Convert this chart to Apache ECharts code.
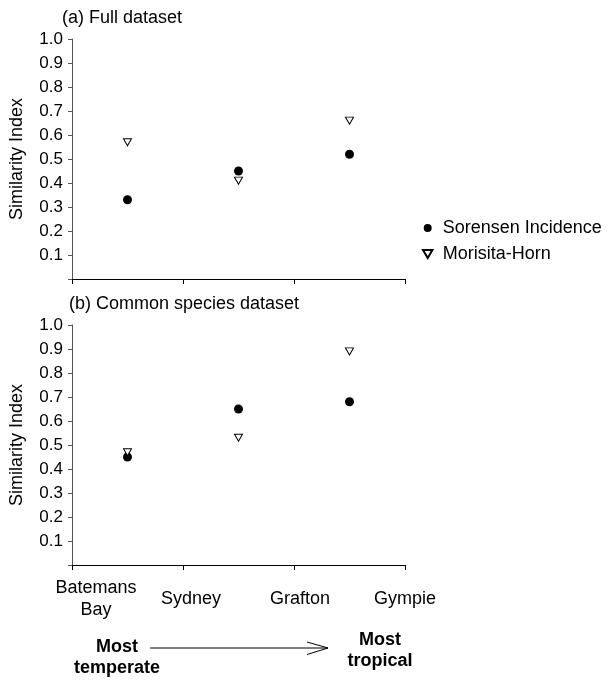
<!DOCTYPE html>
<html>
<head>
<meta charset="utf-8">
<script src="https://cdn.jsdelivr.net/npm/echarts@6/dist/echarts.min.js"></script>
<style>
html,body{margin:0;padding:0;background:#fff;}
#chart{width:616px;height:680px;}
</style>
</head>
<body>
<div id="chart"></div>
<script>
// ---- data ----
var siteLabels = ['Batemans\nBay', 'Sydney', 'Grafton', 'Gympie'];
var pairPositions = [0.5, 1.5, 2.5];
var yTicks = [0.1, 0.2, 0.3, 0.4, 0.5, 0.6, 0.7, 0.8, 0.9, 1.0];
var fullSorensen = [0.33, 0.45, 0.52];
var fullMorisita = [0.57, 0.41, 0.66];
var commonSorensen = [0.45, 0.65, 0.68];
var commonMorisita = [0.47, 0.53, 0.89];
var panelTitles = ['(a) Full dataset', '(b) Common species dataset'];
var seriesNames = ['Sorensen Incidence', 'Morisita-Horn'];
var gradientLabels = ['Most\ntemperate', 'Most\ntropical'];

// ---- styling ----
var FONT = '"Liberation Sans", Arial, sans-serif';
var TRI = 'path://M0,0 L10,0 L5,8.5 Z';
var labelShift = [48, 16, 12, 0];

function pairs(xs, ys) { return xs.map(function (x, i) { return [x, ys[i]]; }); }

function yAxis(gridIndex) {
  return {
    type: 'value', gridIndex: gridIndex, min: 0, max: 1, interval: 0.1,
    name: 'Similarity Index', nameLocation: 'middle', nameGap: 46,
    nameTextStyle: { fontFamily: FONT, fontSize: 18, color: '#000' },
    axisLine: { show: true, lineStyle: { color: '#555', width: 1 } },
    axisTick: { show: true, length: 4, lineStyle: { color: '#555' } },
    splitLine: { show: false },
    axisLabel: {
      fontFamily: FONT, fontSize: 17, color: '#000', margin: 9,
      formatter: function (v) {
        for (var i = 0; i < yTicks.length; i++) {
          if (Math.abs(yTicks[i] - v) < 1e-6) return yTicks[i].toFixed(1);
        }
        return '';
      }
    }
  };
}

var richStyles = {};
labelShift.forEach(function (p, i) {
  richStyles['s' + i] = { fontFamily: FONT, fontSize: 18, color: '#000', lineHeight: 22, padding: [0, 0, 0, p] };
});

function xAxis(gridIndex, withLabels) {
  return {
    type: 'value', gridIndex: gridIndex, min: 0, max: siteLabels.length - 1, interval: 1,
    axisLine: { show: true, lineStyle: { color: '#000', width: 1 } },
    axisTick: { show: true, length: 5, lineStyle: { color: '#000' } },
    splitLine: { show: false },
    axisLabel: withLabels ? {
      show: true, margin: 34, verticalAlign: 'middle', hideOverlap: false,
      showMinLabel: true, showMaxLabel: true,
      formatter: function (v) {
        var i = Math.round(v);
        return siteLabels[i].split('\n').map(function (l) { return '{s' + i + '|' + l + '}'; }).join('\n');
      },
      rich: richStyles
    } : { show: false }
  };
}

var circleStyle = { color: '#000', opacity: 1 };
var triStyle = { color: '#fff', borderColor: '#000', borderWidth: 1, opacity: 1 };

var option = {
  backgroundColor: '#fff',
  animation: false,
  title: [
    { text: panelTitles[0], left: 62, top: 9, padding: 0,
      textStyle: { fontFamily: FONT, fontSize: 18, fontWeight: 'normal', color: '#000' } },
    { text: panelTitles[1], left: 69, top: 295, padding: 0,
      textStyle: { fontFamily: FONT, fontSize: 18, fontWeight: 'normal', color: '#000' } }
  ],
  legend: {
    orient: 'vertical', left: 422, top: 219, padding: 0,
    itemWidth: 20, itemHeight: 8, itemGap: 8,
    textStyle: { fontFamily: FONT, fontSize: 18, color: '#000' },
    data: [
      { name: seriesNames[0], icon: 'circle' },
      { name: seriesNames[1], icon: TRI }
    ]
  },
  grid: [
    { left: 72, top: 39, width: 333, height: 240 },
    { left: 72, top: 325, width: 333, height: 240 }
  ],
  xAxis: [xAxis(0, false), xAxis(1, true)],
  yAxis: [yAxis(0), yAxis(1)],
  series: [
    { name: seriesNames[0], type: 'scatter', xAxisIndex: 0, yAxisIndex: 0,
      symbol: 'circle', symbolSize: 9, itemStyle: circleStyle, data: pairs(pairPositions, fullSorensen) },
    { name: seriesNames[1], type: 'scatter', xAxisIndex: 0, yAxisIndex: 0,
      symbol: TRI, symbolSize: [8, 7], itemStyle: triStyle, data: pairs(pairPositions, fullMorisita) },
    { name: seriesNames[0], type: 'scatter', xAxisIndex: 1, yAxisIndex: 1,
      symbol: 'circle', symbolSize: 9, itemStyle: circleStyle, data: pairs(pairPositions, commonSorensen) },
    { name: seriesNames[1], type: 'scatter', xAxisIndex: 1, yAxisIndex: 1,
      symbol: TRI, symbolSize: [8, 7], itemStyle: triStyle, data: pairs(pairPositions, commonMorisita) }
  ],
  graphic: [
    { type: 'text', x: 117, y: 658, style: { text: gradientLabels[0], textAlign: 'center', textVerticalAlign: 'middle',
        font: 'bold 18px ' + FONT, fill: '#000', lineHeight: 21 } },
    { type: 'text', x: 380, y: 651, style: { text: gradientLabels[1], textAlign: 'center', textVerticalAlign: 'middle',
        font: 'bold 18px ' + FONT, fill: '#000', lineHeight: 21 } },
    { type: 'line', shape: { x1: 150, y1: 648, x2: 328, y2: 648 }, style: { stroke: '#000', lineWidth: 1 } },
    { type: 'polyline', shape: { points: [[307, 642], [328, 648], [307, 654.5]] }, style: { stroke: '#000', lineWidth: 1, fill: null } }
  ]
};

var chart = echarts.init(document.getElementById('chart'), null, { renderer: 'canvas' });
chart.setOption(option);
</script>
</body>
</html>
